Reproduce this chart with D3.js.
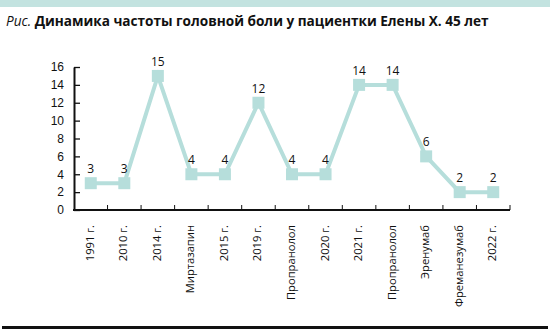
<!DOCTYPE html>
<html>
<head>
<meta charset="utf-8">
<script src="https://cdn.jsdelivr.net/npm/d3@7"></script>
<style>
  html, body { margin: 0; padding: 0; background: #fff; }
  svg { display: block; font-family: "Open Sans", "Noto Sans", sans-serif; }
</style>
</head>
<body>
<svg id="chart" width="550" height="333"></svg>
<script>
// Headache frequency by period / treatment
const categories = ["1991 г.", "2010 г.", "2014 г.", "Миртазапин", "2015 г.", "2019 г.",
  "Пропранолол", "2020 г.", "2021 г.", "Пропранолол", "Эренумаб", "Фреманезумаб", "2022 г."];
const values = [3, 3, 15, 4, 4, 12, 4, 4, 14, 14, 6, 2, 2];
const yTicks = [0, 2, 4, 6, 8, 10, 12, 14, 16];

const svg = d3.select("#chart");
const W = 550, H = 333;
const margin = { left: 74, right: 40, top: 67, bottom: 123 };
const lineColor = "#b6dedb";

// decorative band and rule
svg.append("rect").attr("x", 0).attr("y", 0).attr("width", W).attr("height", 7).attr("fill", "#c3e3e0");
svg.append("rect").attr("x", 2).attr("y", 326).attr("width", 546).attr("height", 3).attr("fill", "#111");

// title
const title = svg.append("text").attr("x", 6).attr("y", 26).attr("font-size", 13.6).attr("fill", "#111");
title.append("tspan").attr("font-style", "italic").text("Рис. ");
title.append("tspan").attr("font-weight", "bold").text("Динамика частоты головной боли у пациентки Елены Х. 45 лет");

const x = d3.scaleBand().domain(d3.range(categories.length)).range([margin.left, W - margin.right]);
const y = d3.scaleLinear().domain([0, 16]).range([H - margin.bottom, margin.top]);

// y axis
const yAxis = svg.append("g").attr("transform", `translate(${margin.left},0)`)
  .call(d3.axisLeft(y).tickValues(yTicks).tickSize(-6).tickPadding(10).tickSizeOuter(0));
yAxis.select(".domain").attr("stroke", "#111").attr("stroke-width", 2);
yAxis.selectAll(".tick line").attr("stroke", "#111").attr("stroke-width", 1.3);
yAxis.selectAll(".tick text").attr("font-size", 12).attr("fill", "#111");

// x axis: ticks at category boundaries pointing up
const bounds = d3.range(categories.length + 1).map(i => margin.left + i * x.bandwidth());
svg.append("line").attr("x1", margin.left - 1).attr("x2", W - margin.right)
  .attr("y1", y(0)).attr("y2", y(0)).attr("stroke", "#111").attr("stroke-width", 2);
svg.append("g").selectAll("line").data(bounds.slice(1)).join("line")
  .attr("x1", d => d).attr("x2", d => d).attr("y1", y(0)).attr("y2", y(0) - 5)
  .attr("stroke", "#111").attr("stroke-width", 1);

svg.append("g").selectAll("text").data(categories).join("text")
  .attr("transform", (d, i) => `translate(${x(i) + x.bandwidth() / 2 + 3},${y(0) + 15}) rotate(-90)`)
  .attr("text-anchor", "end").attr("font-size", 11.2).attr("fill", "#111").text(d => d);

// line and markers
const cx = i => x(i) + x.bandwidth() / 2;
svg.append("path").datum(values)
  .attr("d", d3.line().x((d, i) => cx(i)).y(d => y(d)))
  .attr("fill", "none").attr("stroke", lineColor).attr("stroke-width", 4);
svg.append("g").selectAll("rect").data(values).join("rect")
  .attr("x", (d, i) => cx(i) - 6).attr("y", d => y(d) - 6)
  .attr("width", 12).attr("height", 12).attr("fill", lineColor);

svg.append("g").selectAll("text").data(values).join("text")
  .attr("x", (d, i) => cx(i)).attr("y", d => y(d) - 10)
  .attr("text-anchor", "middle").attr("font-size", 12).attr("fill", "#111").text(d => d);
</script>
</body>
</html>
